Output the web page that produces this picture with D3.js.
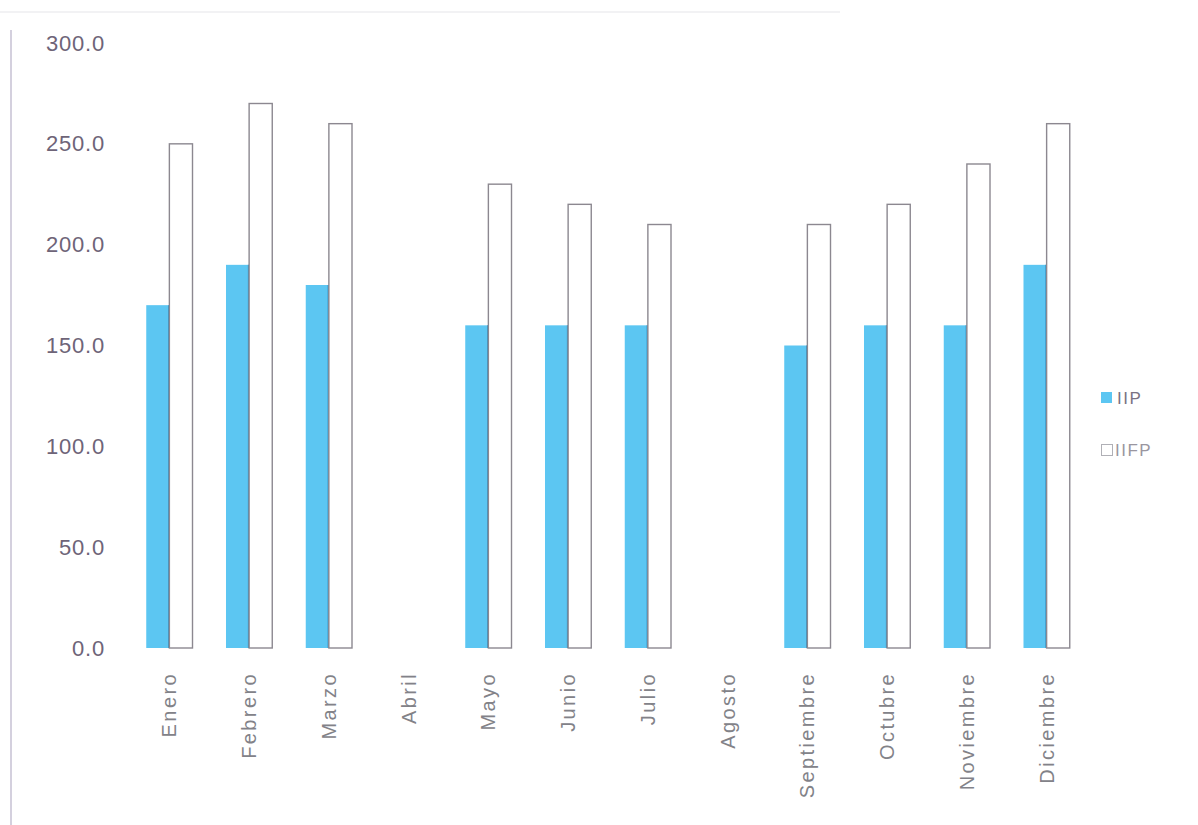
<!DOCTYPE html>
<html>
<head>
<meta charset="utf-8">
<script src="https://cdn.jsdelivr.net/npm/d3@7"></script>
<style>
  html, body { margin: 0; padding: 0; background: #ffffff; }
  svg { display: block; }
</style>
</head>
<body>
<svg id="chart" width="1198" height="825"></svg>
<script>
// Monthly values for the two series (Abril and Agosto have no data)
const months = ["Enero", "Febrero", "Marzo", "Abril", "Mayo", "Junio", "Julio",
                "Agosto", "Septiembre", "Octubre", "Noviembre", "Diciembre"];
const iip  = [170, 190, 180, null, 160, 160, 160, null, 150, 160, 160, 190];
const iifp = [250, 270, 260, null, 230, 220, 210, null, 210, 220, 240, 260];
const seriesNames = ["IIP", "IIFP"];
const yTicks = [0, 50, 100, 150, 200, 250, 300];

const svg = d3.select("#chart");
const W = 1198, H = 825;
const plot = { left: 129.5, right: 1086.5, top: 43, bottom: 648 };

// frame lines around the chart area
svg.append("line").attr("x1", 11).attr("x2", 11).attr("y1", 30).attr("y2", H)
  .attr("stroke", "#d4d0de").attr("stroke-width", 2);
svg.append("line").attr("x1", 0).attr("x2", 840).attr("y1", 12).attr("y2", 12)
  .attr("stroke", "#f2f2f4").attr("stroke-width", 2);

const x0 = d3.scaleBand().domain(months)
  .range([plot.left, plot.right]).paddingInner(0.42).paddingOuter(0.21);
const x1 = d3.scaleBand().domain(seriesNames).range([0, x0.bandwidth()]);
const y = d3.scaleLinear().domain([0, 300]).range([plot.bottom, plot.top]);

// y axis labels (no axis line, no ticks)
const yAxis = d3.axisLeft(y).tickValues(yTicks).tickFormat(d3.format(".1f")).tickSize(0).tickPadding(0);
const gy = svg.append("g").attr("transform", "translate(105,0)").call(yAxis);
gy.select(".domain").remove();
gy.selectAll("text")
  .attr("font-family", "'Liberation Sans', Arial, sans-serif")
  .attr("font-size", 22).attr("letter-spacing", 0.8).attr("fill", "#6e6478");

// x axis labels, rotated
const xAxis = d3.axisBottom(x0).tickSize(0).tickPadding(0);
const gx = svg.append("g").attr("transform", `translate(0,${plot.bottom})`).call(xAxis);
gx.select(".domain").remove();
gx.selectAll("text")
  .attr("font-family", "'Liberation Sans', Arial, sans-serif")
  .attr("font-size", 20).attr("fill", "#828288")
  .attr("letter-spacing", 2.4)
  .attr("text-anchor", "end")
  .attr("dy", "0.35em")
  .attr("transform", "translate(0,24) rotate(-90)");

const groups = svg.append("g").selectAll("g").data(months).join("g")
  .attr("transform", d => `translate(${x0(d)},0)`);

// IIP bars: solid blue with a darker right edge
groups.each(function(m, i) {
  const g = d3.select(this);
  if (iip[i] != null) {
    g.append("rect")
      .attr("x", x1("IIP")).attr("width", x1.bandwidth())
      .attr("y", y(iip[i])).attr("height", y(0) - y(iip[i]))
      .attr("fill", "#5cc6f2");
    g.append("line")
      .attr("x1", x1("IIP") + x1.bandwidth() - 0.5).attr("x2", x1("IIP") + x1.bandwidth() - 0.5)
      .attr("y1", y(iip[i])).attr("y2", y(0))
      .attr("stroke", "#2f8fc4").attr("stroke-width", 1.5);
  }
  // IIFP bars: white with grey outline
  if (iifp[i] != null) {
    g.append("rect")
      .attr("x", x1("IIFP")).attr("width", x1.bandwidth())
      .attr("y", y(iifp[i])).attr("height", y(0) - y(iifp[i]))
      .attr("fill", "#ffffff").attr("stroke", "#8c8890").attr("stroke-width", 1.4);
  }
});

// legend
const legend = svg.append("g").attr("transform", "translate(1101,392)");
legend.append("rect").attr("x", 0).attr("y", 0).attr("width", 11).attr("height", 11)
  .attr("fill", "#5cc6f2");
legend.append("text").attr("x", 16).attr("y", 6).attr("dy", "0.35em")
  .attr("font-family", "'Liberation Sans', Arial, sans-serif").attr("font-size", 17)
  .attr("letter-spacing", 1.5).attr("fill", "#7a7284").text(seriesNames[0]);
legend.append("rect").attr("x", 0.5).attr("y", 52.5).attr("width", 11).attr("height", 11)
  .attr("fill", "#ffffff").attr("stroke", "#b0b0b6").attr("stroke-width", 1);
legend.append("text").attr("x", 14).attr("y", 58).attr("dy", "0.35em")
  .attr("font-family", "'Liberation Sans', Arial, sans-serif").attr("font-size", 17)
  .attr("letter-spacing", 1.5).attr("fill", "#9a96a0").text(seriesNames[1]);
</script>
</body>
</html>
